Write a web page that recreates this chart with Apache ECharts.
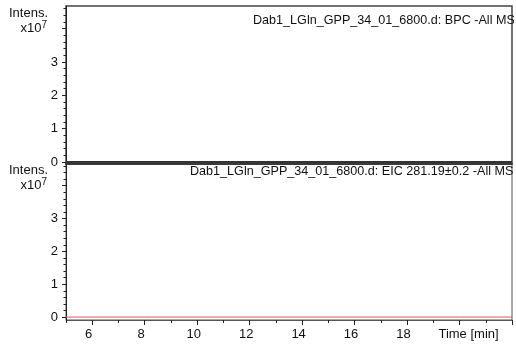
<!DOCTYPE html>
<html><head><meta charset="utf-8">
<script src="https://cdn.jsdelivr.net/npm/echarts@6/dist/echarts.min.js"></script>
<style>html,body{margin:0;padding:0;background:#fff}#c{width:516px;height:345px}</style>
</head><body><div id="c"></div>
<script>
// ---- data ----
var timeMin = [5, 6, 8, 10, 12, 14, 16, 18, 20, 22];
var bpcValues = [0, 0, 0, 0, 0, 0, 0, 0, 0, 0];      // x10^7
var eicValues = [0, 0, 0, 0, 0, 0, 0, 0, 0, 0];      // x10^7
var yMajorTicks = [0, 1, 2, 3, 4];
var yMinorTicks = [0.2, 0.4, 0.6, 0.8, 1.2, 1.4, 1.6, 1.8, 2.2, 2.4, 2.6, 2.8, 3.2, 3.4, 3.6, 3.8, 4.2, 4.4, 4.6];
var xMajorTicks = [6, 8, 10, 12, 14, 16, 18, 20, 22];
var xMinorTicks = [5, 7, 9, 11, 13, 15, 17, 19, 21];
var xTickLabels = [6, 8, 10, 12, 14, 16, 18];
var xAxisName = 'Time [min]';
var yAxisName = 'Intens.';
var titleTop = 'Dab1_LGln_GPP_34_01_6800.d: BPC -All MS';
var titleBottom = 'Dab1_LGln_GPP_34_01_6800.d: EIC 281.19\u00b10.2 -All MS';

var FONT = '"Liberation Sans", Arial, sans-serif';
var FS = 13;
var TFS = 12.6;
var TXT = '#111';
var chart = echarts.init(document.getElementById('c'), null, {renderer: 'canvas'});

function yAxes(gridIndex, min, max) {
  return [{
    type: 'value', gridIndex: gridIndex, min: min, max: max, position: 'left',
    name: yAxisName, nameLocation: 'end', nameGap: -7,
    nameTextStyle: {fontFamily: FONT, fontSize: FS, color: TXT, align: 'right', verticalAlign: 'middle', padding: [0, 18, 0, 0]},
    axisLine: {show: true, onZero: false, lineStyle: {color: '#222', width: 1}},
    axisTick: {show: true, inside: false, length: 4, lineStyle: {color: '#222'}, customValues: yMajorTicks},
    axisLabel: {
      show: true, margin: 8, fontFamily: FONT, fontSize: FS, color: TXT,
      customValues: yMajorTicks,
      formatter: function (v) {
        if (v === 4) return '{a|x10}{s|7}{p|}';
        return String(v);
      },
      rich: {
        a: {fontFamily: FONT, fontSize: FS, color: TXT},
        s: {fontFamily: FONT, fontSize: 10, color: TXT, verticalAlign: 'bottom', padding: [0, 0, 6, 0]},
        p: {width: 11}
      }
    },
    splitLine: {show: false}
  }, {
    type: 'value', gridIndex: gridIndex, min: min, max: max, position: 'left', offset: 0,
    axisLine: {show: false, onZero: false},
    axisTick: {show: true, inside: false, length: 2.5, lineStyle: {color: '#222'}, customValues: yMinorTicks},
    axisLabel: {show: false},
    splitLine: {show: false}
  }];
}

var ya = yAxes(0, -0.06, 4.68).concat(yAxes(1, -0.09, 4.69));

var option = {
  animation: false,
  backgroundColor: '#fff',
  title: [
    {text: titleTop, left: 253, top: 14, textStyle: {fontFamily: FONT, fontSize: TFS, fontWeight: 'normal', color: TXT}, padding: 0},
    {text: titleBottom, left: 190, top: 165, textStyle: {fontFamily: FONT, fontSize: TFS, fontWeight: 'normal', color: TXT}, padding: 0}
  ],
  graphic: [
    {type: 'rect', right: 0, top: 0, z: 100, shape: {width: 2, height: 345}, style: {fill: '#fff'}}
  ],
  grid: [
    {left: 66, top: 6, width: 446, height: 158, show: true, borderColor: '#444', borderWidth: 1.5, backgroundColor: 'transparent'},
    {left: 66, top: 163, width: 446, height: 157, show: true, borderColor: '#555', borderWidth: 1, backgroundColor: 'transparent'}
  ],
  xAxis: [
    {type: 'value', gridIndex: 0, min: 5, max: 22, position: 'bottom',
     axisLine: {show: true, onZero: false, lineStyle: {color: '#3a3a3a', width: 2}},
     axisTick: {show: false}, axisLabel: {show: false}, splitLine: {show: false}},
    {type: 'value', gridIndex: 1, min: 5, max: 22, position: 'bottom',
     axisLine: {show: true, onZero: false, lineStyle: {color: '#555', width: 1}},
     axisTick: {show: true, length: 5, lineStyle: {color: '#222'}, customValues: xMajorTicks},
     axisLabel: {
       show: true, margin: 8, fontFamily: FONT, fontSize: FS, color: TXT,
       customValues: xTickLabels.concat([20]),
       formatter: function (v) {
         if (v === 20) return '{t|' + xAxisName + '}';
         return '{n|' + v + '}';
       },
       rich: {
         n: {fontFamily: FONT, fontSize: FS, color: TXT, padding: [0, 7, 0, 0]},
         t: {fontFamily: FONT, fontSize: FS, color: TXT, padding: [0, 0, 0, 18]}
       }
     },
     splitLine: {show: false}},
    {type: 'value', gridIndex: 1, min: 5, max: 22, position: 'bottom', offset: 0,
     axisLine: {show: false, onZero: false},
     axisTick: {show: true, length: 3, lineStyle: {color: '#222'}, customValues: xMinorTicks},
     axisLabel: {show: false}, splitLine: {show: false}}
  ],
  yAxis: ya,
  series: [
    {type: 'line', xAxisIndex: 0, yAxisIndex: 0, showSymbol: false,
     data: timeMin.map(function (t, i) { return [t, bpcValues[i]]; }),
     lineStyle: {color: '#333', width: 2}, clip: false},
    {type: 'line', xAxisIndex: 1, yAxisIndex: 2, showSymbol: false,
     data: timeMin.map(function (t, i) { return [t, eicValues[i]]; }),
     lineStyle: {color: '#e05a5a', width: 1}, clip: false}
  ]
};
chart.setOption(option);
</script>
</body></html>
